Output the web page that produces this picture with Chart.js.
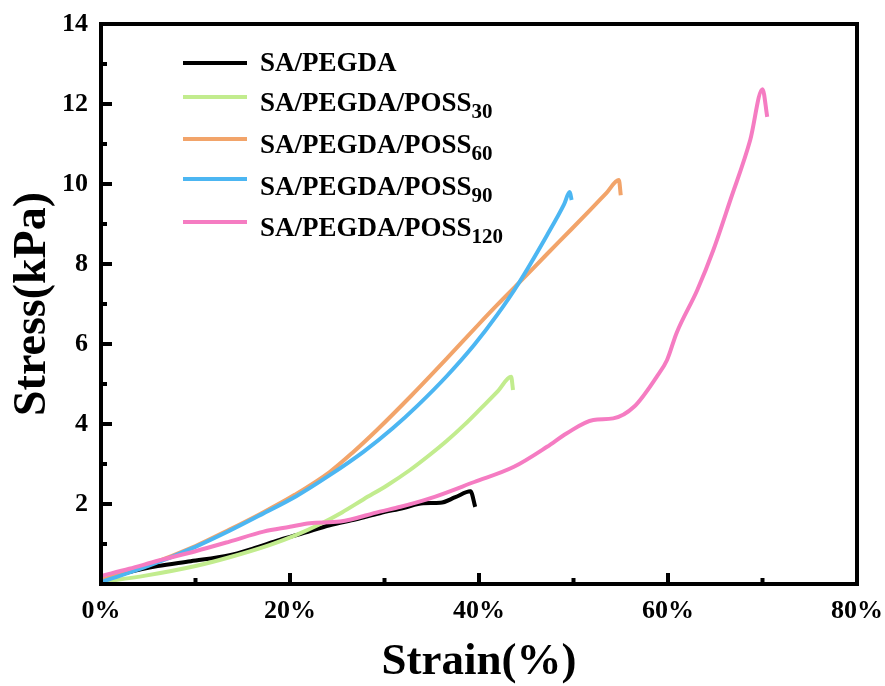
<!DOCTYPE html>
<html>
<head>
<meta charset="utf-8">
<title>Stress-strain curves</title>
<script src="https://cdn.jsdelivr.net/npm/chart.js@4.4.1/dist/chart.umd.min.js"></script>
<style>
  html, body { margin: 0; padding: 0; background: #fff; }
  #wrap { position: relative; width: 885px; height: 686px; }
  #legend { position: absolute; left: 0; top: 0; font-family: 'Liberation Serif', 'Times New Roman', serif; font-weight: bold; color: #000; }
  .swatch { position: absolute; left: 183px; width: 64px; height: 4px; }
  .label { position: absolute; left: 260px; font-size: 27px; line-height: 27px; white-space: nowrap; }
  .label span { font-size: 21px; position: relative; top: 7px; }
</style>
</head>
<body>
<div id="wrap">
  <canvas id="chart" width="885" height="686"></canvas>
  <div id="legend"></div>
</div>
<script>
// strain (%) / stress (kPa) per sample
const strainSA = [0, 3, 6, 9.5, 13.6, 16, 18.9, 21.5, 24.2, 27, 29.5, 32, 34.1, 35.9, 37.5, 39.1, 39.6];
const stressSA = [0.08, 0.3, 0.45, 0.57, 0.72, 0.88, 1.1, 1.28, 1.47, 1.62, 1.77, 1.9, 2.02, 2.03, 2.17, 2.32, 1.93];

const strainP30 = [0, 4.7, 10, 13.6, 17.9, 20.5, 23.2, 25.5, 27.8, 30.3, 32.7, 34.8, 36.6, 38.5, 40.2, 42, 43.4, 43.6];
const stressP30 = [0.05, 0.21, 0.45, 0.67, 0.98, 1.21, 1.5, 1.79, 2.12, 2.47, 2.85, 3.23, 3.58, 3.99, 4.39, 4.82, 5.18, 4.85];

const strainP60 = [0, 5, 10, 13.6, 17, 20.5, 24.2, 26.7, 29.2, 32.8, 36.6, 40, 41.9, 44.2, 47.2, 49.7, 51.8, 53.5, 54.8, 55.0];
const stressP60 = [0.1, 0.48, 0.95, 1.36, 1.77, 2.23, 2.8, 3.3, 3.85, 4.7, 5.64, 6.5, 6.97, 7.52, 8.25, 8.85, 9.36, 9.78, 10.1, 9.72];

const strainP90 = [0, 5, 10, 13.6, 17, 20.7, 24.2, 27.8, 30.9, 33.5, 36.6, 39.5, 41.9, 44.2, 47.2, 49, 49.6, 49.8];
const stressP90 = [0.05, 0.45, 0.93, 1.33, 1.74, 2.2, 2.72, 3.31, 3.9, 4.46, 5.2, 5.98, 6.72, 7.52, 8.72, 9.49, 9.8, 9.6];

const strainP120 = [0, 3, 6, 10, 13.6, 17.2, 20, 22.1, 25.3, 29.5, 31.7, 34.8, 39.5, 43.7, 47.2, 49.3, 52.1, 54.2, 56.4, 58.8, 59.9, 60.9, 63.1, 64.8, 66.6, 68.7, 70.0, 70.5];
const stressP120 = [0.2, 0.38, 0.58, 0.82, 1.06, 1.31, 1.43, 1.52, 1.56, 1.81, 1.93, 2.14, 2.55, 2.93, 3.43, 3.77, 4.1, 4.14, 4.43, 5.18, 5.6, 6.27, 7.35, 8.35, 9.6, 11.1, 12.37, 11.68];

const seriesNames = ['SA/PEGDA', 'SA/PEGDA/POSS', 'SA/PEGDA/POSS', 'SA/PEGDA/POSS', 'SA/PEGDA/POSS'];
const seriesSubs = ['', '30', '60', '90', '120'];
const seriesColors = ['#000000', '#c2ec8e', '#f2a46a', '#4cb6f2', '#f57cc2'];
const strainSets = [strainSA, strainP30, strainP60, strainP90, strainP120];
const stressSets = [stressSA, stressP30, stressP60, stressP90, stressP120];

const xTicks = [0, 20, 40, 60, 80];
const yTicks = [2, 4, 6, 8, 10, 12, 14];

const serif = "'Liberation Serif', 'Times New Roman', serif";

function toPoints(xs, ys) {
  return xs.map(function (x, i) { return { x: x, y: ys[i] }; });
}

var datasets = strainSets.map(function (xs, i) {
  return {
    label: seriesNames[i] + seriesSubs[i],
    data: toPoints(xs, stressSets[i]),
    borderColor: seriesColors[i],
    borderWidth: 4,
    pointRadius: 0,
    cubicInterpolationMode: 'monotone',
    showLine: true,
    fill: false,
    order: strainSets.length - i   // later samples drawn on top
  };
});

// frame round the plot plus inward tick marks (major and minor)
const frameTicks = {
  id: 'frameTicks',
  afterDraw: function (chart) {
    var ctx = chart.ctx, a = chart.chartArea;
    var xs = chart.scales.x, ys = chart.scales.y;
    ctx.save();
    ctx.strokeStyle = '#000';
    ctx.lineWidth = 4;
    ctx.lineCap = 'butt';
    ctx.strokeRect(a.left, a.top, a.right - a.left, a.bottom - a.top);

    for (var v = 0; v <= 80; v += 10) {
      var px = xs.getPixelForValue(v);
      var len = (v % 20 === 0) ? 11 : 6;
      ctx.beginPath();
      ctx.moveTo(px, a.bottom);
      ctx.lineTo(px, a.bottom - len);
      ctx.stroke();
    }
    for (var s = 0; s <= 14; s += 1) {
      var py = ys.getPixelForValue(s);
      var l2 = (s % 2 === 0) ? 11 : 6;
      ctx.beginPath();
      ctx.moveTo(a.left, py);
      ctx.lineTo(a.left + l2, py);
      ctx.stroke();
    }
    ctx.restore();
  }
};

new Chart(document.getElementById('chart'), {
  type: 'scatter',
  data: { datasets: datasets },
  options: {
    responsive: false,
    animation: false,
    events: [],
    layout: { padding: { left: 0, right: 28, top: 24, bottom: 0 } },
    plugins: {
      legend: { display: false },
      tooltip: { enabled: false }
    },
    scales: {
      x: {
        type: 'linear',
        min: 0,
        max: 80,
        afterFit: function (scale) {
          scale.height = 102;
          scale.paddingLeft = 0;
          scale.paddingRight = 0;
        },
        afterBuildTicks: function (scale) {
          scale.ticks = xTicks.map(function (v) { return { value: v }; });
        },
        grid: { display: false, drawTicks: false },
        border: { display: false },
        ticks: {
          padding: 12,
          color: '#000',
          font: { family: serif, size: 26, weight: 'bold' },
          callback: function (v) { return v + '%'; }
        },
        title: {
          display: true,
          text: 'Strain(%)',
          color: '#000',
          font: { family: serif, size: 45, weight: 'bold', lineHeight: 1 },
          padding: { top: 0, bottom: 1 }
        }
      },
      y: {
        type: 'linear',
        min: 0,
        max: 14,
        afterFit: function (scale) {
          scale.width = 101;
          scale.paddingTop = 0;
          scale.paddingBottom = 0;
        },
        afterBuildTicks: function (scale) {
          scale.ticks = yTicks.map(function (v) { return { value: v }; });
        },
        grid: { display: false, drawTicks: false },
        border: { display: false },
        ticks: {
          padding: 13,
          color: '#000',
          font: { family: serif, size: 26, weight: 'bold' }
        },
        title: {
          display: true,
          text: 'Stress(kPa)',
          color: '#000',
          font: { family: serif, size: 46, weight: 'bold', lineHeight: 1 },
          padding: { top: 10, bottom: 0 }
        }
      }
    }
  },
  plugins: [frameTicks]
});

// legend with subscripted loadings
var legendLineY = [62.7, 97.3, 139, 179.3, 221.7];
var legendTextY = [63, 103, 145, 187, 228];
var legend = document.getElementById('legend');
seriesNames.forEach(function (name, i) {
  var sw = document.createElement('div');
  sw.className = 'swatch';
  sw.style.top = (legendLineY[i] - 2) + 'px';
  sw.style.background = seriesColors[i];
  legend.appendChild(sw);

  var lb = document.createElement('div');
  lb.className = 'label';
  lb.style.top = (legendTextY[i] - 14) + 'px';
  lb.textContent = name;
  if (seriesSubs[i]) {
    var sub = document.createElement('span');
    sub.textContent = seriesSubs[i];
    lb.appendChild(sub);
  }
  legend.appendChild(lb);
});
</script>
</body>
</html>
